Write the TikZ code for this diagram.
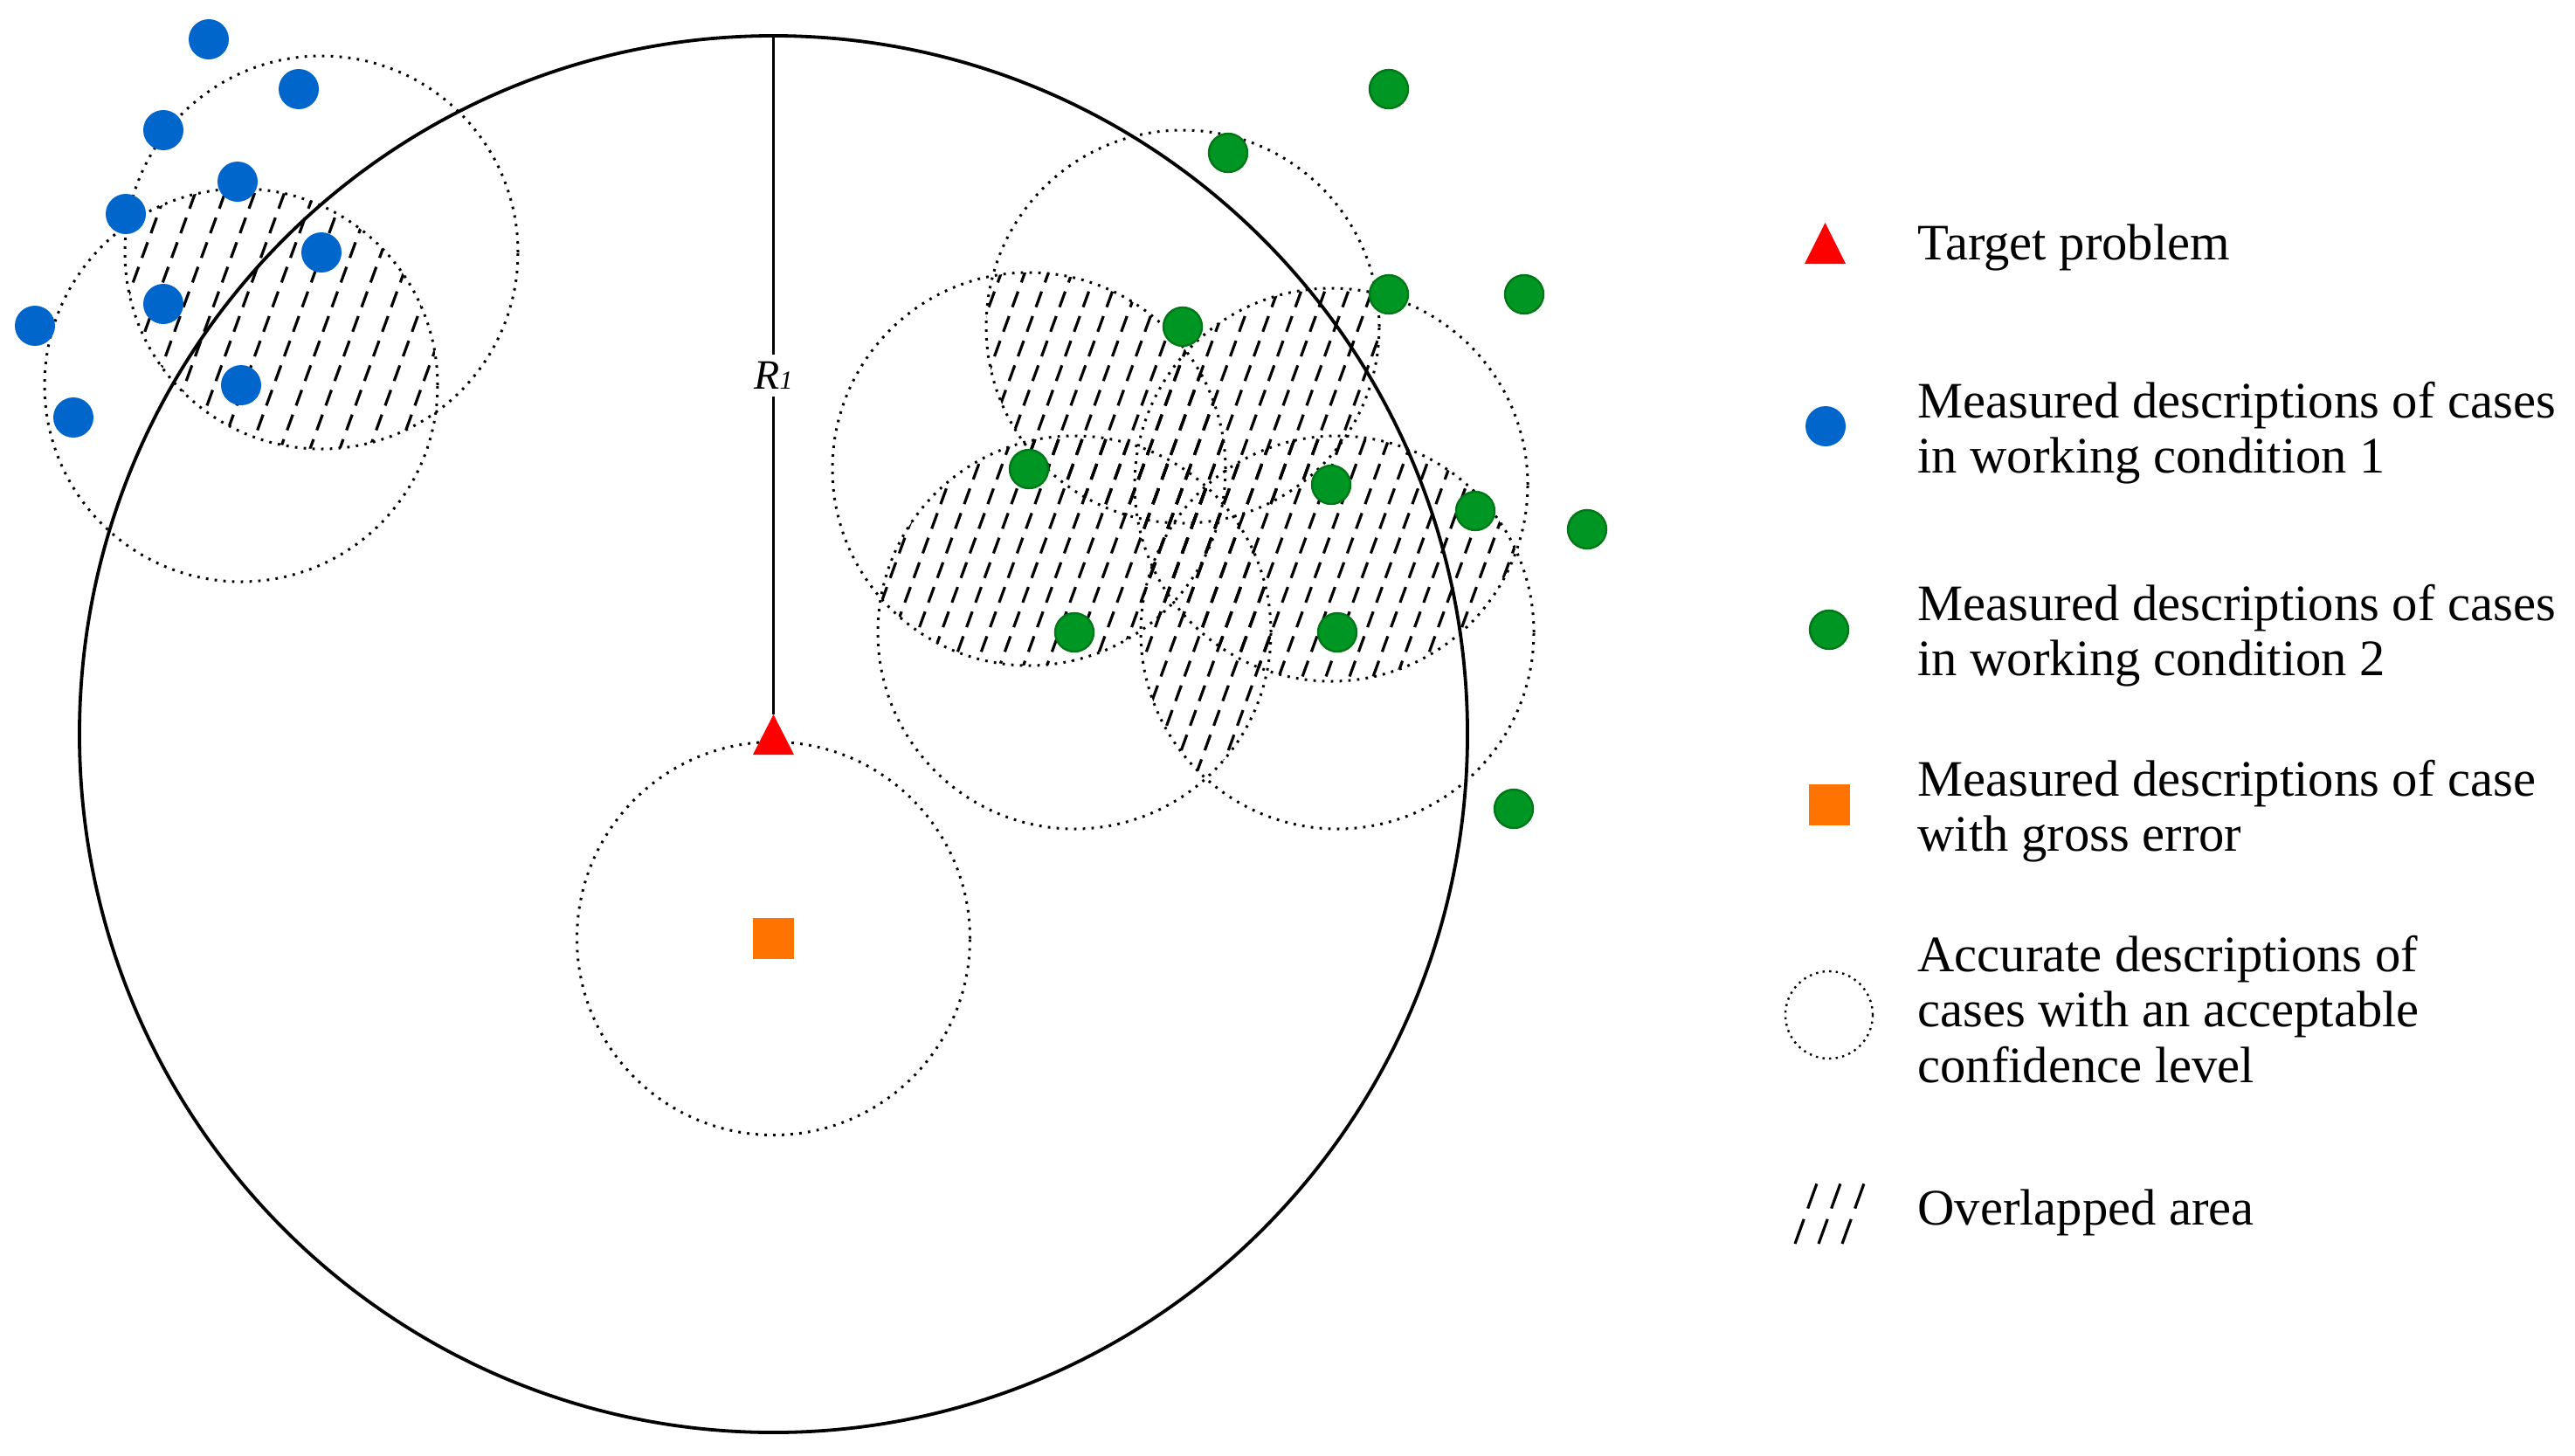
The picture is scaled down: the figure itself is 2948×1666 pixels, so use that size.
\documentclass[tikz,border=0pt]{standalone}
\usepackage{fontspec}
\setmainfont{Liberation Serif}
\definecolor{cblue}{RGB}{0,102,204}
\definecolor{cgreen}{RGB}{0,150,36}
\definecolor{cgreenD}{RGB}{0,120,24}
\definecolor{corange}{RGB}{255,115,0}
\definecolor{cred}{RGB}{255,0,0}
\newcommand\crad{112.5bp}
\newcommand\hatchall[1]{\foreach \k in {0,...,90}{\draw[hatchline] ({-400+\k*#1},1000) -- ++(364,-1000);}}
\newcommand\legtab[1]{\begin{tabular}[t]{@{}l@{}}#1\end{tabular}}
\begin{document}
\begin{tikzpicture}[x=0.5bp,y=-0.5bp,
  bluedot/.style={circle,fill=cblue,inner sep=0pt,minimum size=23bp},
  greendot/.style={circle,fill=cgreen,draw=cgreenD,line width=1.2bp,inner sep=0pt,minimum size=22bp},
  orangesq/.style={rectangle,fill=corange,inner sep=0pt,minimum size=23.5bp},
  conf/.style={line width=1.5bp,dash pattern=on 1.4bp off 3.6bp},
  hatchline/.style={line width=1.6bp,dash pattern=on 9.5bp off 5.5bp},
  legtext/.style={anchor=base west,inner sep=0pt,font=\fontsize{29.4}{32}\selectfont},
]
\path[use as bounding box] (0,0) rectangle (2948,1666);

% centres
\coordinate (O) at (885.5,840.5);
\coordinate (top) at (885.5,41);
\coordinate (apex) at (885.5,818);
\coordinate (cU) at (368,289);
\coordinate (cL) at (276,441);
\coordinate (cA) at (1354,374);
\coordinate (cB) at (1178,537);
\coordinate (cC) at (1524,555);
\coordinate (cD) at (1230,724);
\coordinate (cE) at (1531,724);
\coordinate (cG) at (885.5,1074.5);

% overlapped areas
\begin{scope}
  \clip (cU) circle [radius=\crad];
  \clip (cL) circle [radius=\crad];
  \hatchall{34}
\end{scope}
\foreach \p/\q in {cA/cB,cA/cC,cA/cD,cA/cE,cB/cC,cB/cD,cB/cE,cC/cD,cC/cE,cD/cE}{
  \begin{scope}
    \clip (\p) circle [radius=\crad];
    \clip (\q) circle [radius=\crad];
    \hatchall{27}
  \end{scope}
}

% confidence circles
\foreach \c in {cU,cL,cA,cB,cC,cD,cE,cG}{
  \draw[conf] (\c) circle [radius=\crad];
}

% big circle and radius
\draw[line width=1.9bp] (O) ellipse [x radius=397.25bp, y radius=399.75bp];
\draw[line width=1.4bp] (top) -- (apex);
\node[fill=white,inner xsep=1bp,inner ysep=4bp,font=\fontsize{24}{24}\selectfont] (r1) at (885.5,430) {\textit{R{\fontsize{15}{15}\selectfont 1}}};

% target problem
\fill[cred] (apex) -- (862,864) -- (909,864) -- cycle;

% gross error
\node[orangesq] (ge) at (cG) {};

% blue dots
\foreach \x/\y [count=\i] in {239/45,342/102,187/149,272/208,144/245,368/289,187/348,40/373,276/441,84/478}{
  \node[bluedot] (b\i) at (\x,\y) {};
}
% green dots
\foreach \x/\y [count=\i] in {1590/102,1406/175,1590/337,1745/337,1354/374,1178/537,1524/555,1689/585,1817/606,1230/724,1531/724,1733/926}{
  \node[greendot] (g\i) at (\x,\y) {};
}

% legend
\fill[cred] (2066,302) -- (2113,302) -- (2089.5,255) -- cycle;
\node[bluedot] (lb) at (2090,488) {};
\node[greendot] (lg) at (2094,721) {};
\node[orangesq] (lo) at (2094,921) {};
\draw[conf,line width=1.2bp,dash pattern=on 1.2bp off 2.6bp] (2094,1162) circle [radius=25bp];
\foreach \i in {0,1,2}{
  \draw[line width=1.6bp,dash pattern=on 15bp off 6.5bp] ({2055+\i*27},1424) -- ++(25,-69);
}

\node[legtext] (t1) at (2195,297) {Target problem};
\node[legtext] (t2) at (2195,478) {\legtab{Measured descriptions of cases\\ in working condition 1}};
\node[legtext] (t3) at (2195,710) {\legtab{Measured descriptions of cases\\ in working condition 2}};
\node[legtext] (t4) at (2195,911) {\legtab{Measured descriptions of case\\ with gross error}};
\node[legtext] (t5) at (2195,1112) {\legtab{Accurate descriptions of\\ cases with an acceptable\\ confidence level}};
\node[legtext] (t6) at (2195,1402) {Overlapped area};
\end{tikzpicture}
\end{document}
